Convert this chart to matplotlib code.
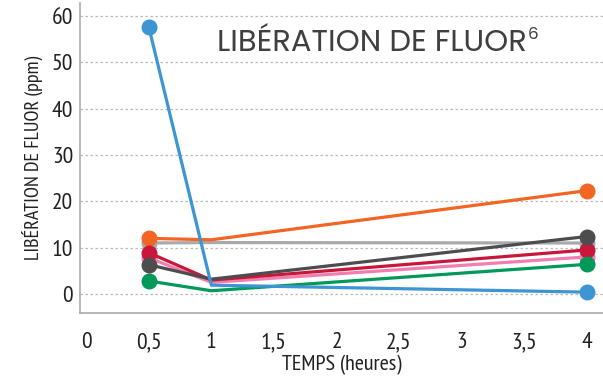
import matplotlib
matplotlib.use("Agg")
import matplotlib.pyplot as plt

hours = [0.5, 1, 4]

blue = [57.6, 1.9, 0.4]
orange = [12.0, 11.7, 22.3]
light_gray = [11.0, 11.1, 11.0]
dark_gray = [6.3, 3.2, 12.4]
crimson = [8.9, 3.0, 9.5]
pink = [7.8, 2.5, 8.0]
green = [2.8, 0.7, 6.4]

series = [
    (light_gray, "#a7a9ac"),
    (orange, "#f26522"),
    (pink, "#f07fb0"),
    (crimson, "#c8173b"),
    (green, "#00995a"),
    (dark_gray, "#4d4d4f"),
    (blue, "#3d95d4"),
]

x_ticks = [0, 0.5, 1, 1.5, 2, 2.5, 3, 3.5, 4]
x_tick_labels = ["0", "0,5", "1", "1,5", "2", "2,5", "3", "3,5", "4"]
y_ticks = [0, 10, 20, 30, 40, 50, 60]

narrow = ["PT Sans Narrow", "DejaVu Sans"]
title_font = ["Poppins", "DejaVu Sans"]

fig = plt.figure(figsize=(6.03, 3.76), dpi=100)
ax = fig.add_axes([0.1327, 0.1676, 0.8673, 0.8244])

for values, color in series:
    ax.plot(hours, values, color=color, lw=2.3, solid_capstyle="round", clip_on=False)
    ax.plot([hours[0], hours[-1]], [values[0], values[-1]], ls="none", marker="o",
            ms=10.5, color=color, clip_on=False)

ax.set_xlim(-0.05, 4.13)
ax.set_ylim(-4.1, 62.8)
ax.set_xticks(x_ticks)
ax.set_xticklabels(x_tick_labels)
ax.set_yticks(y_ticks)
ax.tick_params(length=0, labelsize=17, colors="#222222")
ax.tick_params(axis="x", pad=14)
ax.tick_params(axis="y", pad=5)
for lbl in ax.get_xticklabels() + ax.get_yticklabels():
    lbl.set_family(narrow)

ax.yaxis.grid(True, color="#bbbbbb", linestyle=(0, (2, 2)), lw=0.9)
ax.set_axisbelow(True)
for side in ("top", "right"):
    ax.spines[side].set_visible(False)
for side in ("left", "bottom"):
    ax.spines[side].set_color("#aaaaaa")
    ax.spines[side].set_linewidth(1.2)

ax.set_xlabel("TEMPS (heures)", family=narrow, fontsize=16, color="#222222", labelpad=1)
ax.set_ylabel("LIBÉRATION DE FLUOR (ppm)", family=narrow, fontsize=14.5, color="#222222", labelpad=6)

title = fig.text(0.36, 0.883, "LIBÉRATION DE FLUOR", fontsize=22, color="#404040",
                 family=title_font, va="center", ha="left")
fig.canvas.draw()
bb = title.get_window_extent()
fig.text(bb.x1 / fig.bbox.width + 0.002, 0.908, "6", fontsize=12, color="#404040",
         family=title_font, va="center", ha="left")

fig.savefig("out.png", dpi=100)
